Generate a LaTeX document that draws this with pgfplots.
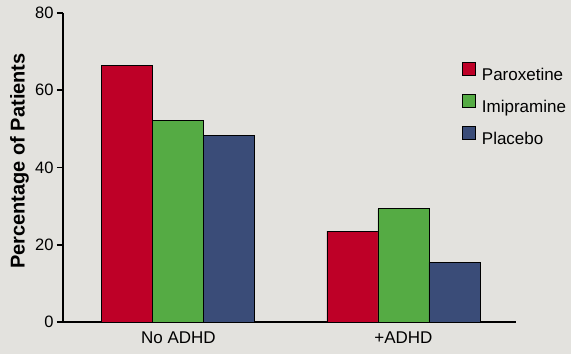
\documentclass[border=0pt]{standalone}
\usepackage{fontspec}
\setmainfont{Liberation Sans}
\usepackage{pgfplots}
\pgfplotsset{compat=1.18}
\definecolor{bg}{HTML}{E3E2DE}
\definecolor{cred}{HTML}{BE0027}
\definecolor{cgreen}{HTML}{55AB44}
\definecolor{cblue}{HTML}{3A4C78}
\begin{document}
\begin{tikzpicture}
\fill[bg] (-63pt,-32pt) rectangle (508pt,322pt);
\useasboundingbox (-63pt,-32pt) rectangle (508pt,322pt);
\begin{axis}[
  at={(0pt,0pt)}, anchor=south west,
  scale only axis, width=453pt, height=309pt,
  xmin=-0.513, xmax=1.5, ymin=0, ymax=80,
  axis x line*=bottom, axis y line*=left,
  axis line style={line width=1.6pt, black, -},
  ybar=0pt, bar width=51pt,
  xtick={0,1}, xticklabels={No ADHD,+ADHD},
  x tick style={draw=none},
  ytick={0,20,40,60,80},
  tick align=outside, major tick length=6pt,
  y tick style={line width=1.6pt, black},
  /pgf/number format/assume math mode=true,
  yticklabel style={font=\fontsize{16.5}{19}\selectfont},
  xticklabel style={font=\fontsize{17}{20}\selectfont},
  ylabel={Percentage of Patients},
  ylabel style={font=\fontsize{20}{24}\selectfont\bfseries, at={(axis description cs:-0.096,0.521)}, rotate=0, anchor=center},
  legend style={at={(axis description cs:0.874,0.848)}, anchor=north west, draw=none, fill=none,
    font=\fontsize{17}{20}\selectfont, row sep=12pt, column sep=6pt, nodes={inner sep=0pt}},
  legend cell align=left,
  legend image code/.code={\draw[#1, draw=black, line width=0.8pt] (0pt,-0.5pt) rectangle (13pt,12.5pt);},
  every axis plot/.append style={draw=black, line width=0.9pt},
]
\addplot[fill=cred] coordinates {(0,66.3) (1,23.5)};
\addplot[fill=cgreen] coordinates {(0,52.2) (1,29.3)};
\addplot[fill=cblue] coordinates {(0,48.4) (1,15.4)};
\legend{Paroxetine,Imipramine,Placebo}
\end{axis}
\end{tikzpicture}
\end{document}
